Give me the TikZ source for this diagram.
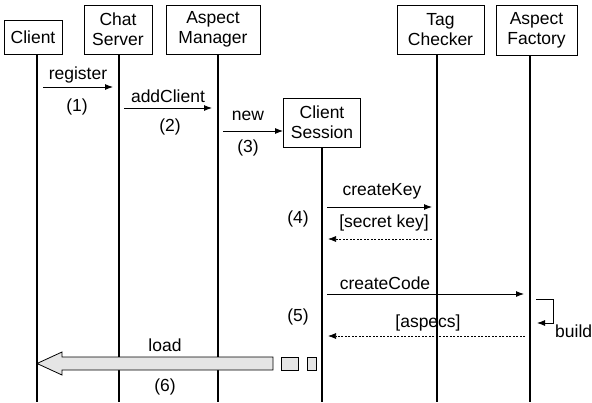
\documentclass[tikz,border=0pt]{standalone}
\usepackage{fontspec}
\setmainfont{Liberation Sans}
\usetikzlibrary{arrows.meta}
\begin{document}
\begin{tikzpicture}[x=1pt,y=-1pt,
  font=\fontsize{17.5}{20}\selectfont,
  objbox/.style={draw,line width=0.9pt,align=center,inner sep=0pt},
  life/.style={line width=1.8pt},
  msg/.style={line width=0.9pt,-{Latex[length=8pt,width=6pt]}},
  reply/.style={line width=0.7pt,dash pattern=on 2pt off 1.5pt,-{Latex[length=8pt,width=6pt]}},
  lbl/.style={inner sep=0pt,anchor=center},
  bigarrow/.style={draw,line width=0.8pt,fill=black!10}]
\useasboundingbox (0,0) rectangle (592,402);
% objects
\node[objbox,minimum width=58pt,minimum height=34pt] (client) at (33,37) {Client};
\node[objbox,minimum width=68pt,minimum height=49pt] (chat) at (118,29.5) {Chat\\Server};
\node[objbox,minimum width=94pt,minimum height=49pt] (am) at (213,29.5) {Aspect\\Manager};
\node[objbox,minimum width=77pt,minimum height=49pt] (cs) at (322,122.5) {Client\\Session};
\node[objbox,minimum width=87pt,minimum height=49pt] (tc) at (440.5,29.5) {Tag\\Checker};
\node[objbox,minimum width=81pt,minimum height=50pt] (af) at (536.5,30) {Aspect\\Factory};
% lifelines
\coordinate (clientB) at (37,402);
\coordinate (chatB) at (119,402);
\coordinate (amB) at (218,402);
\coordinate (csB) at (322,402);
\coordinate (tcB) at (437,402);
\coordinate (afB) at (530,402);
\draw[life] (client.south -| clientB) -- (clientB);
\draw[life] (chat.south -| chatB) -- (chatB);
\draw[life] (am.south -| amB) -- (amB);
\draw[life] (cs.south -| csB) -- (csB);
\draw[life] (tc.south -| tcB) -- (tcB);
\draw[life] (af.south -| afB) -- (afB);
% messages
\coordinate (m1a) at (43,87); \coordinate (m1b) at (113,87);
\draw[msg] (m1a) -- (m1b);
\node[lbl] (l1) at (78,75) {register};
\node[lbl] (n1) at (77,107) {(1)};
\coordinate (m2a) at (124,108); \coordinate (m2b) at (212,108);
\draw[msg] (m2a) -- (m2b);
\node[lbl] (l2) at (168,96) {addClient};
\node[lbl] (n2) at (170,127) {(2)};
\coordinate (m3a) at (223,131);
\draw[msg] (m3a) -- (m3a -| cs.west);
\node[lbl] (l3) at (248,116) {new};
\node[lbl] (n3) at (248,148) {(3)};
\coordinate (m4a) at (327,207); \coordinate (m4b) at (432,207);
\draw[msg] (m4a) -- (m4b);
\node[lbl] (l4) at (382,191) {createKey};
\coordinate (m5a) at (432,239); \coordinate (m5b) at (328,239);
\draw[reply] (m5a) -- (m5b);
\node[lbl] (l5) at (384,223) {[secret key]};
\node[lbl] (n4) at (298,219) {(4)};
\coordinate (m6a) at (327,294); \coordinate (m6b) at (524,294);
\draw[msg] (m6a) -- (m6b);
\node[lbl] (l6) at (385,283) {createCode};
\coordinate (b1) at (536,299); \coordinate (b2) at (553,299);
\coordinate (b3) at (553,323); \coordinate (b4) at (537,323);
\draw[line width=0.9pt,-{Latex[length=8pt,width=6pt]}] (b1) -- (b2) -- (b3) -- (b4);
\node[lbl,anchor=west] (l7) at (555,331) {build};
\coordinate (m7a) at (525,336); \coordinate (m7b) at (328,336);
\draw[reply] (m7a) -- (m7b);
\node[lbl] (l8) at (428,323) {[aspecs]};
\node[lbl] (n5) at (298,317) {(5)};
% load arrow
\draw[bigarrow] (273,357) -- (62,357) -- (62,352) -- (37,363.5) -- (62,375) -- (62,370) -- (273,370) -- cycle;
\draw[bigarrow] (281,357) rectangle (298,370);
\draw[bigarrow] (307,357) rectangle (316,370);
\node[lbl] (l9) at (165,345) {load};
\node[lbl] (n6) at (165,387) {(6)};
\end{tikzpicture}
\end{document}
